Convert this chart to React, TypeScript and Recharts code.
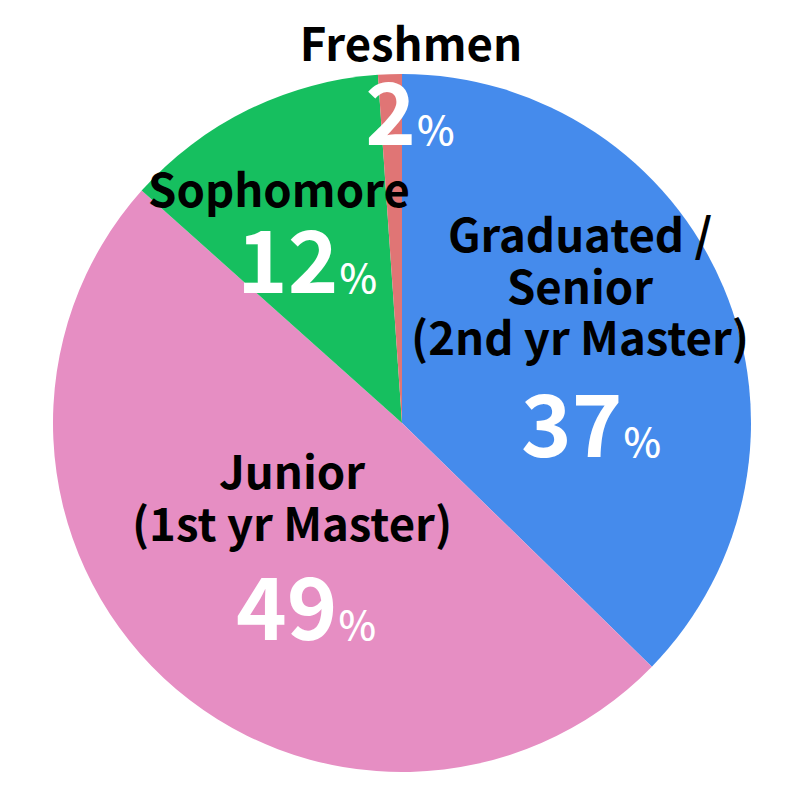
import { PieChart, Pie, Cell } from 'recharts';

// 学年ごとの回答者の割合（描画は角度から読み取った値、表示は丸めた値）
const categories = ['Graduated / Senior', 'Junior', 'Sophomore', 'Freshmen'];
const nameLines = [
  ['Graduated /', 'Senior', '(2nd yr Master)'],
  ['Junior', '(1st yr Master)'],
  ['Sophomore'],
  ['Freshmen'],
];
const values = [37.3, 49.3, 12.3, 1.1];
const percentLabels = [37, 49, 12, 2];

const colors = ['#458BEC', '#E68EC3', '#16BF5F', '#E07575'];

// ラベルの位置（中心からのオフセット）
const labelLayout = [
  { nameX: 178, nameY: -171, pctX: 189, pctY: 34 },
  { nameX: -110, nameY: 66, pctX: -96, pctY: 217 },
  { nameX: -123, nameY: -216, pctX: -95, pctY: -130 },
  { nameX: 9, nameY: -362, pctX: 8, pctY: -278 },
];

const data = categories.map((name, i) => ({
  name,
  value: values[i],
  lines: nameLines[i],
  pct: percentLabels[i],
}));

const FONT = '"Noto Sans CJK JP", "Noto Sans", sans-serif';
const LINE_HEIGHT = 51.5;

const renderLabel = (props: any) => {
  const { cx, cy, index } = props;
  const layout = labelLayout[index];
  const item = data[index];
  return (
    <g key={`label-${index}`}>
      {item.lines.map((line, i) => (
        <text
          key={line}
          x={cx + layout.nameX}
          y={cy + layout.nameY + i * LINE_HEIGHT}
          textAnchor="middle"
          fontFamily={FONT}
          fontWeight={700}
          fontSize={45.5}
          fill="#000"
        >
          {line}
        </text>
      ))}
      <text
        x={cx + layout.pctX}
        y={cy + layout.pctY}
        textAnchor="middle"
        fontFamily={FONT}
        fill="#fff"
      >
        <tspan fontSize={86} fontWeight={700}>
          {item.pct}
        </tspan>
        <tspan fontSize={40} fontWeight={500} dx={1}>
          %
        </tspan>
      </text>
    </g>
  );
};

export default function App() {
  return (
    <PieChart
      width={792}
      height={792}
      margin={{ top: 0, right: 0, bottom: 0, left: 0 }}
    >
      <Pie
        data={data}
        dataKey="value"
        nameKey="name"
        cx={394}
        cy={415}
        outerRadius={349}
        startAngle={90}
        endAngle={-270}
        stroke="none"
        labelLine={false}
        label={renderLabel}
        isAnimationActive={false}
      >
        {data.map((entry, i) => (
          <Cell key={entry.name} fill={colors[i]} />
        ))}
      </Pie>
    </PieChart>
  );
}
